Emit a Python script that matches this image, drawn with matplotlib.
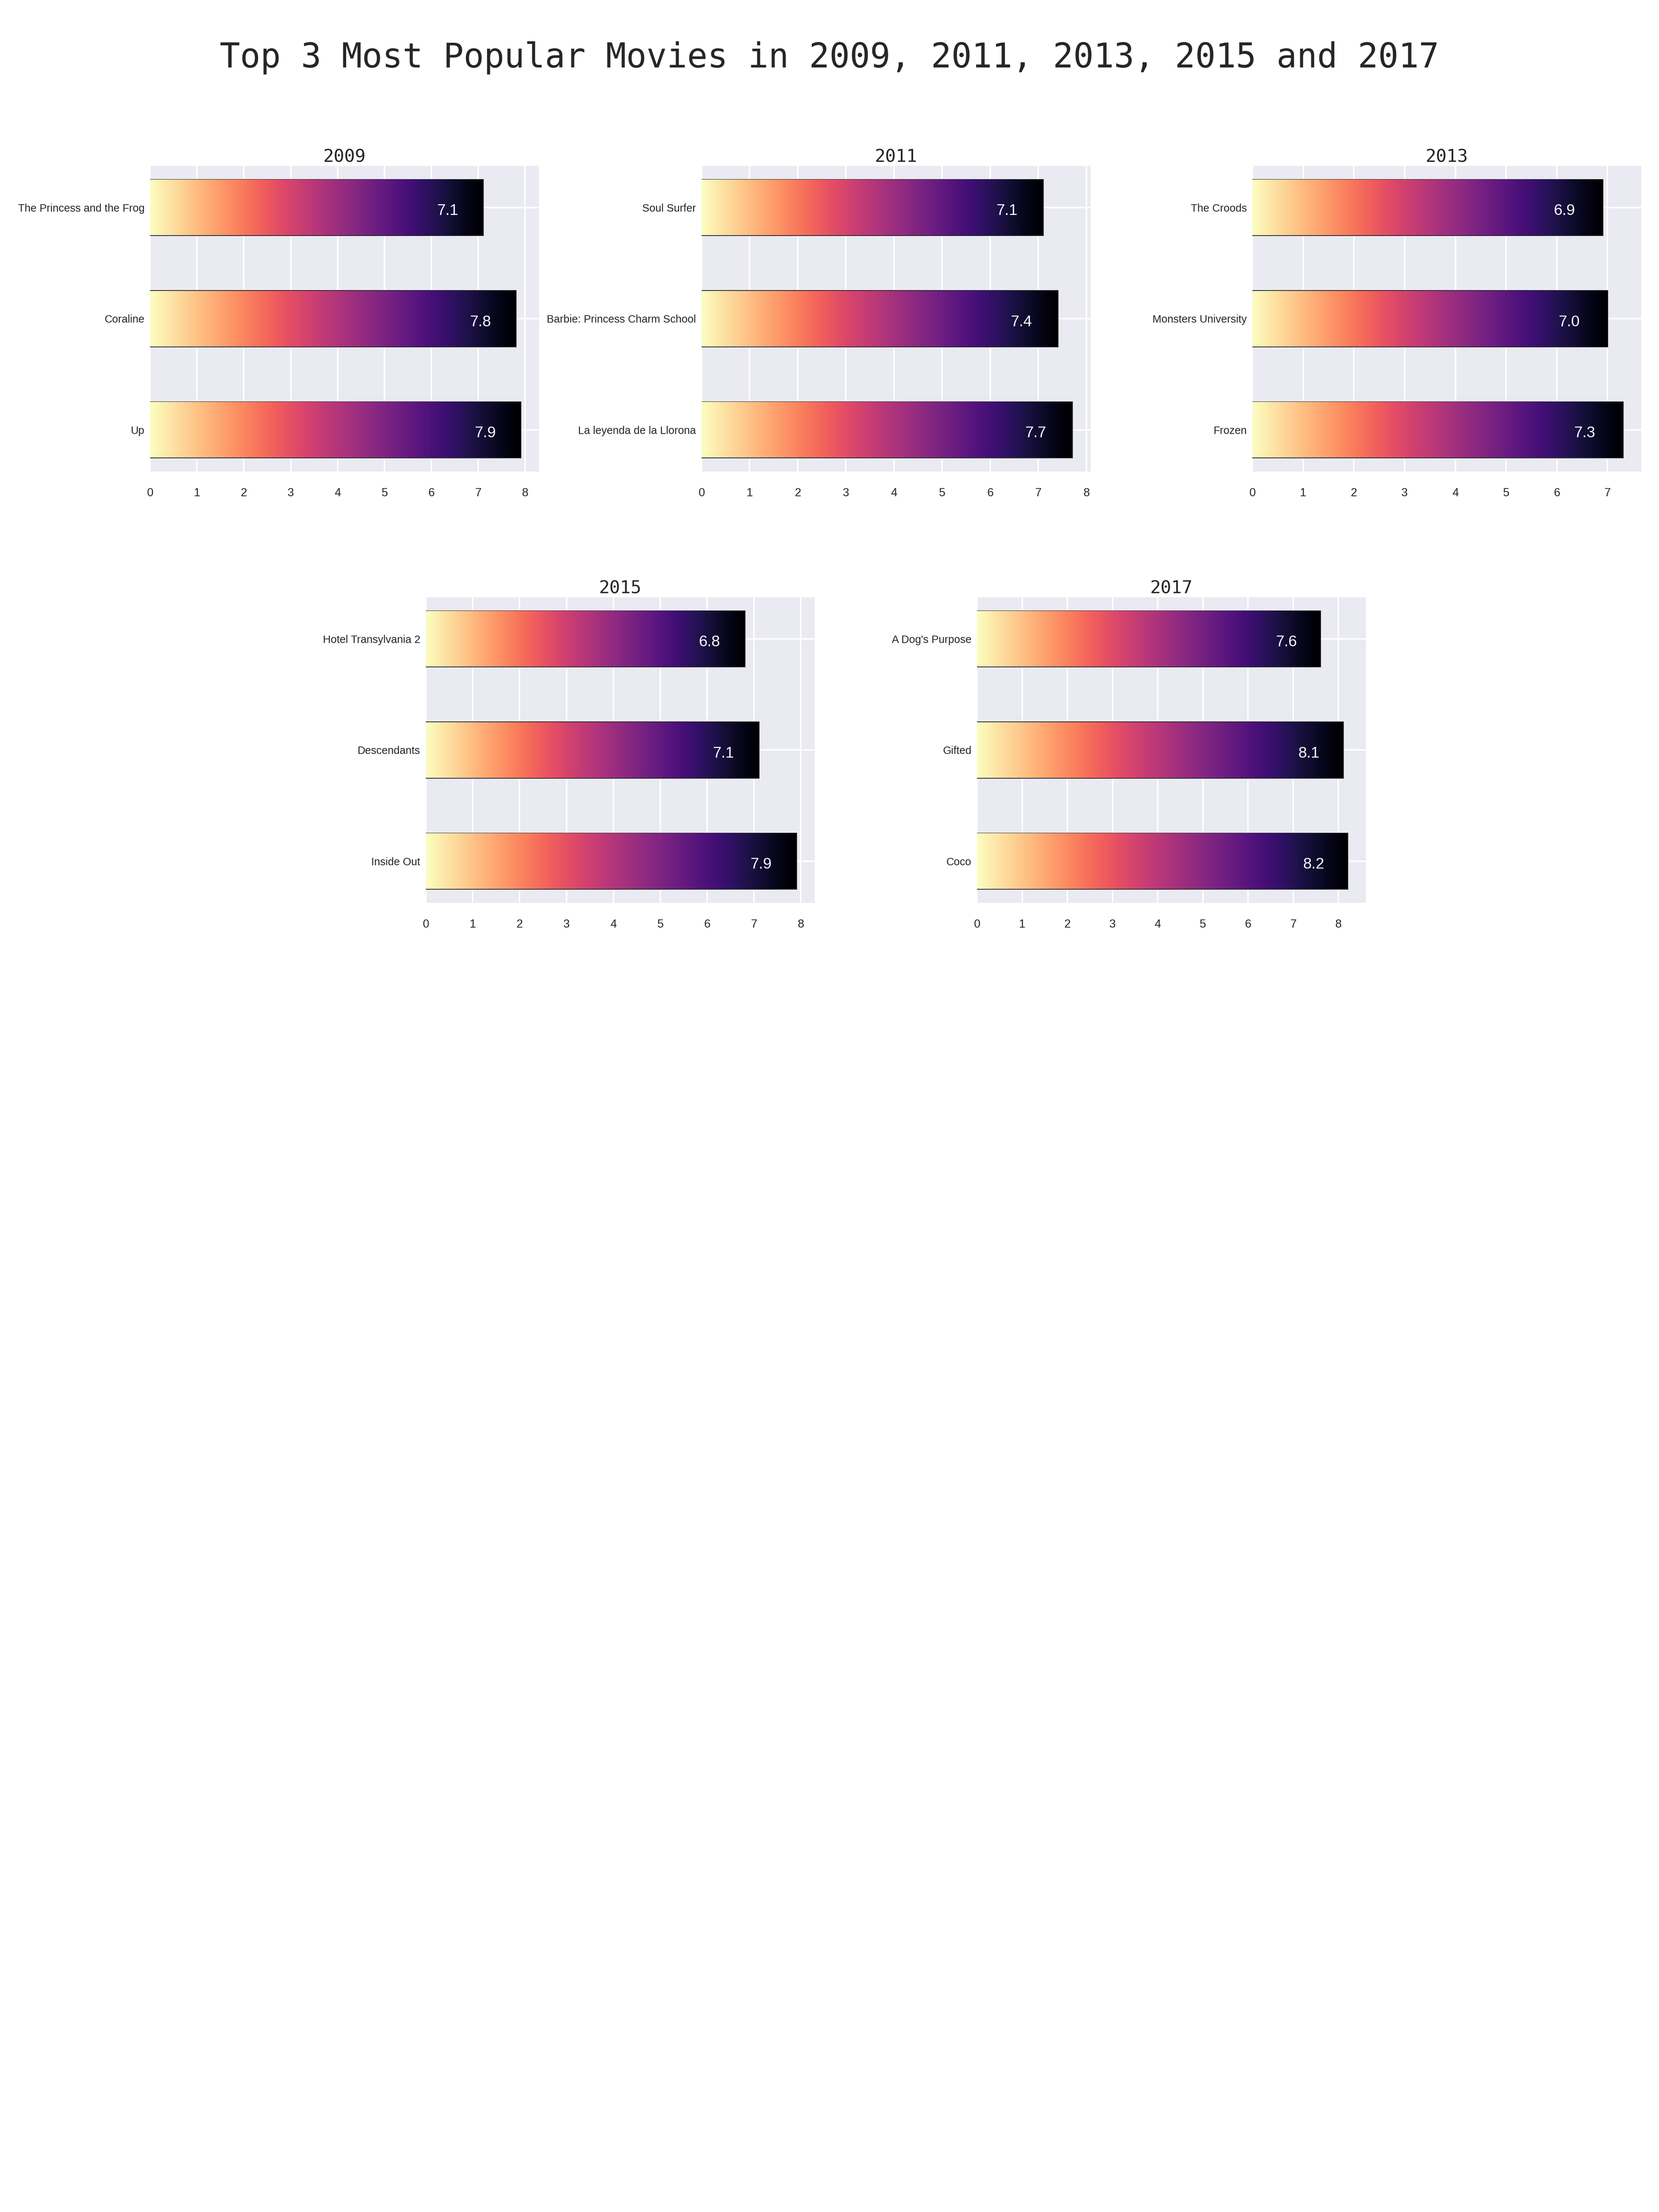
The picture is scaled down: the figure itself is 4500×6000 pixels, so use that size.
import numpy as np
import matplotlib
matplotlib.use("Agg")
import matplotlib.pyplot as plt

# ---- data ----
years = ["2009", "2011", "2013", "2015", "2017"]
titles_2009 = ["The Princess and the Frog", "Coraline", "Up"]
ratings_2009 = [7.1, 7.8, 7.9]
titles_2011 = ["Soul Surfer", "Barbie: Princess Charm School", "La leyenda de la Llorona"]
ratings_2011 = [7.1, 7.4, 7.7]
titles_2013 = ["The Croods", "Monsters University", "Frozen"]
ratings_2013 = [6.9, 7.0, 7.3]
titles_2015 = ["Hotel Transylvania 2", "Descendants", "Inside Out"]
ratings_2015 = [6.8, 7.1, 7.9]
titles_2017 = ["A Dog's Purpose", "Gifted", "Coco"]
ratings_2017 = [7.6, 8.1, 8.2]

all_titles = [titles_2009, titles_2011, titles_2013, titles_2015, titles_2017]
all_ratings = [ratings_2009, ratings_2011, ratings_2013, ratings_2015, ratings_2017]

main_title = "Top 3 Most Popular Movies in 2009, 2011, 2013, 2015 and 2017"

# ---- layout (figure fractions) ----
W, H = 4500, 6000
ax_w = 1055 / W
ax_h = 829 / H
positions = [
    (407 / W, 1 - 1279 / H),
    (1903 / W, 1 - 1279 / H),
    (3397 / W, 1 - 1279 / H),
    (1155 / W, 1 - 2449 / H),
    (2650 / W, 1 - 2449 / H),
]

fig = plt.figure(figsize=(15, 20), dpi=300)
fig.patch.set_facecolor("white")

fig.text(0.5, 1 - 157 / H, main_title, ha="center", va="center",
         fontsize=22, family="DejaVu Sans Mono", color="#262626")

gradient = np.linspace(0, 1, 256).reshape(1, -1)
bar_h = 0.5

for (left, bottom), year, names, vals in zip(positions, years, all_titles, all_ratings):
    ax = fig.add_axes([left, bottom, ax_w, ax_h])
    ax.set_facecolor("#EAEAF2")
    for s in ax.spines.values():
        s.set_visible(False)
    ax.set_axisbelow(True)
    ax.grid(True, color="white", linewidth=1.0, zorder=0)

    ypos = np.arange(len(names))
    ax.barh(ypos, vals, height=bar_h, facecolor="none",
            edgecolor="#222222", linewidth=1.0, zorder=2)
    xlim = ax.get_xlim()
    ylim = ax.get_ylim()
    for y, v in zip(ypos, vals):
        ax.imshow(gradient, cmap="magma_r", aspect="auto",
                  extent=[0, v, y - bar_h / 2, y + bar_h / 2], zorder=3,
                  interpolation="bilinear")
        ax.text(v - 0.75, y + 0.03, f"{v:.1f}", ha="center", va="center",
                color="white", fontsize=10, family="Liberation Sans", zorder=4)
    ax.set_xlim(xlim)
    ax.set_ylim(ylim)
    ax.invert_yaxis()

    ax.set_yticks(ypos)
    ax.set_yticklabels(names)
    ax.xaxis.set_major_locator(matplotlib.ticker.MultipleLocator(1))
    ax.tick_params(axis="both", length=0, colors="#262626")
    ax.tick_params(axis="y", pad=3.6, labelsize=7)
    ax.tick_params(axis="x", pad=10.5, labelsize=7.5)
    for lab in ax.get_xticklabels() + ax.get_yticklabels():
        lab.set_family("Liberation Sans")

    ax.set_title(year, fontsize=11.5, family="DejaVu Sans Mono",
                 color="#262626", pad=1.5)

fig.savefig("out.png", dpi=300, facecolor="white")
